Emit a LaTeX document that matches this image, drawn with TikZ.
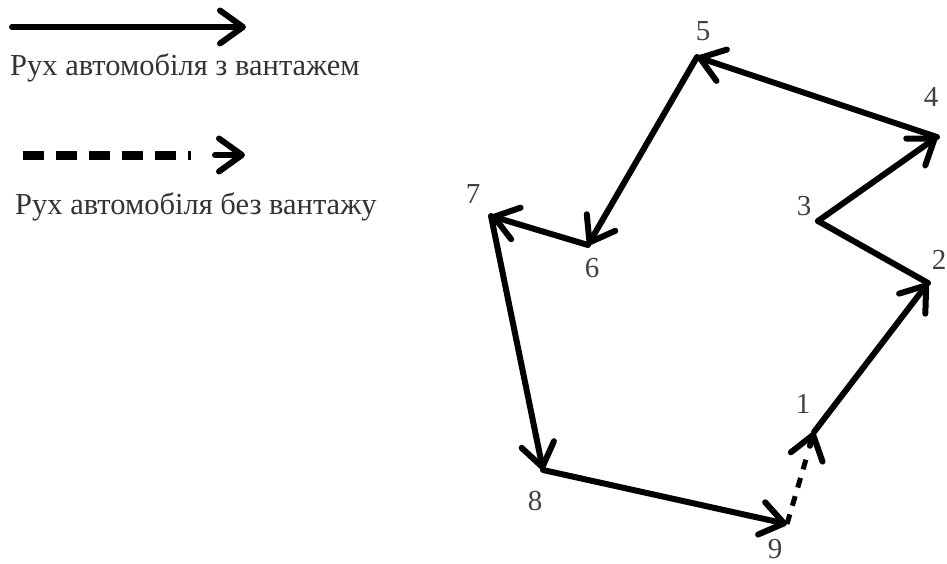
\documentclass[tikz,border=0pt]{standalone}
\usepackage{fontspec}
\setmainfont{Liberation Serif}
\usetikzlibrary{arrows.meta,calc}
\begin{document}
\begin{tikzpicture}[x=1pt,y=-1pt,
  route/.style={line width=6pt,line cap=round,line join=round},
  headed/.style={-{Straight Barb[length=23pt,width=33pt,line width=6pt,round]}},
  empty/.style={route,line cap=butt},
  lbl/.style={font=\fontsize{29}{32}\selectfont,text=black!75,inner sep=0pt},
  legendtext/.style={font=\fontsize{30.5}{34}\selectfont,text=black!80,inner sep=0pt,anchor=base west}]
\useasboundingbox (0,0) rectangle (947,563);

% legend
\coordinate (la) at (12,27);
\coordinate (lb) at (246,27);
\coordinate (lc) at (23,155);
\coordinate (ld) at (245,155);
\draw[route,headed] (la) -- (lb);
\node[legendtext] (lt1) at (10,75) {Рух автомобіля з вантажем};
\draw[empty,line width=9pt,dash pattern=on 21pt off 12pt] (lc) -- ($(ld)+(-54,0)$);
\draw[route,headed] ($(ld)+(-30,0)$) -- (ld);
\node[legendtext] (lt2) at (15,214) {Рух автомобіля без вантажу};

% route points
\coordinate (p1) at (814,432);
\coordinate (p2) at (928,283);
\coordinate (p3) at (818,221);
\coordinate (p4) at (937,137);
\coordinate (p5) at (697,57);
\coordinate (p6) at (588,245);
\coordinate (p7) at (491,216);
\coordinate (p8) at (543,470);
\coordinate (p9) at (787,524);

% point numbers
\node[lbl] (l1) at (803,404) {1};
\node[lbl] (l2) at (939,260) {2};
\node[lbl] (l3) at (804,206) {3};
\node[lbl] (l4) at (931,97) {4};
\node[lbl] (l5) at (703,31) {5};
\node[lbl] (l6) at (592,268) {6};
\node[lbl] (l7) at (473,194) {7};
\node[lbl] (l8) at (535,501) {8};
\node[lbl] (l9) at (775,549) {9};

% loaded runs
\draw[route,headed] (p1) -- (p2);
\draw[route] (p2) -- (p3);
\draw[route,headed] (p3) -- (p4);
\draw[route,headed] (p4) -- (p5);
\draw[route,headed] (p5) -- (p6);
\draw[route,headed] (p6) -- (p7);
\draw[route,headed] (p7) -- (p8);
\draw[route,headed] (p8) -- (p9);
% empty run
\draw[empty,line width=5pt,dash pattern=on 10pt off 9pt] (p9) -- ($(p9)!0.78!(p1)$);
\draw[route,headed] ($(p9)!0.85!(p1)$) -- (p1);
\end{tikzpicture}
\end{document}
